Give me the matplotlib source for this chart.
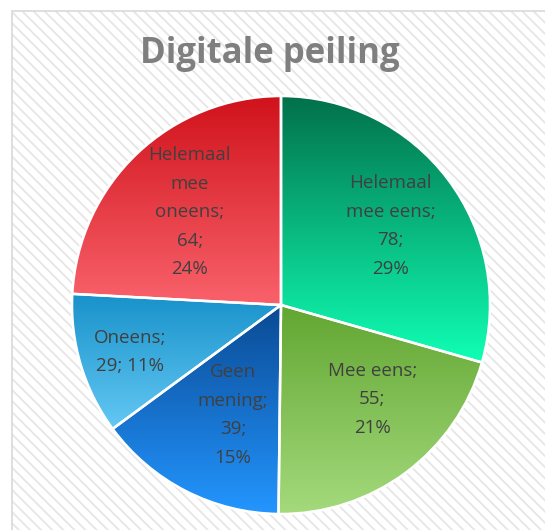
import numpy as np
import matplotlib
matplotlib.use("Agg")
import matplotlib.pyplot as plt
from matplotlib.patches import Rectangle
from matplotlib.colors import LinearSegmentedColormap

# ---- data ----
categories = ["Helemaal mee eens", "Mee eens", "Geen mening", "Oneens", "Helemaal mee oneens"]
values = [78, 55, 39, 29, 64]
# category text as wrapped in the chart
wrapped = ["Helemaal\nmee eens", "Mee eens", "Geen\nmening", "Oneens", "Helemaal\nmee\noneens"]
title = "Digitale peiling"

# ---- style ----
top_colors = ["#02704A", "#62A632", "#0A4A94", "#1892CA", "#D0121B"]
bottom_colors = ["#10FFB4", "#A4DA7C", "#2396FF", "#64C8F4", "#F9626B"]
label_r = [0.646, 0.627, 0.574, 0.756, 0.623]
label_dang = [-1.3, 7.4, 3.6, 0.7, 1.0]
value_sep = ["\n", "\n", "\n", "\n", "\n"]
pct_sep = ["\n", "\n", "\n", " ", "\n"]

plt.rcParams['font.family'] = ['Open Sans', 'DejaVu Sans']
plt.rcParams['hatch.linewidth'] = 1.3
plt.rcParams['hatch.color'] = '#e6e6e6'

W, H = 545, 530
fig = plt.figure(figsize=(W / 100, H / 100), dpi=100)
fig.patch.set_facecolor('white')

# chart area with diagonal hatch
bg = Rectangle((12 / W, -0.05), 1.1, (H - 10.5) / H + 0.05, transform=fig.transFigure,
               facecolor='white', edgecolor='#e6e6e6', hatch='\\\\\\', linewidth=0, zorder=-2)
fig.patches.append(bg)
border = Rectangle((12 / W, -0.05), 1.1, (H - 10.5) / H + 0.05, transform=fig.transFigure,
                   facecolor='none', edgecolor='#d9d9d9', linewidth=1.2, zorder=-1)
fig.patches.append(border)

cx, cy, R = 281, 305, 209
ax = fig.add_axes([(cx - R) / W, (H - cy - R) / H, 2 * R / W, 2 * R / H])
ax.set_zorder(2)
ax.axis('off')
ax.patch.set_alpha(0)

total = sum(values)
labels = []
for i, (w, v) in enumerate(zip(wrapped, values)):
    pct = round(100 * v / total)
    labels.append(f"{w};{value_sep[i]}{v};{pct_sep[i]}{pct}%")

wedges, texts = ax.pie(values, startangle=90, counterclock=False, radius=1,
                       labels=labels, labeldistance=0.65,
                       wedgeprops=dict(edgecolor='white', linewidth=1.8),
                       textprops=dict(color='#404040', fontsize=13.5, ha='center', va='center',
                                      linespacing=1.75))

for i, (wd, t) in enumerate(zip(wedges, texts)):
    ext = wd.get_path().get_extents(wd.get_transform() - ax.transData)
    cmap = LinearSegmentedColormap.from_list(f"g{i}", [bottom_colors[i], top_colors[i]])
    grad = np.linspace(0, 1, 256).reshape(-1, 1)
    im = ax.imshow(grad, cmap=cmap, origin='lower', aspect='auto',
                   extent=[ext.x0, ext.x1, ext.y0, ext.y1], zorder=0.5,
                   interpolation='bilinear')
    im.set_clip_path(wd)
    wd.set_facecolor('none')
    wd.set_zorder(1)
    ang = np.deg2rad((wd.theta1 + wd.theta2) / 2 + label_dang[i])
    t.set_position((label_r[i] * np.cos(ang), label_r[i] * np.sin(ang)))
    t.set_zorder(3)
    t.set_horizontalalignment('center')

ax.set_aspect('equal')
ax.set_xlim(-1.0, 1.0)
ax.set_ylim(-1.0, 1.0)

fig.text(270 / W, 1 - 54 / H, title, ha='center', va='center', fontsize=25,
         fontweight='bold', color='#7f7f7f')

fig.savefig('out.png', dpi=100, facecolor='white')
